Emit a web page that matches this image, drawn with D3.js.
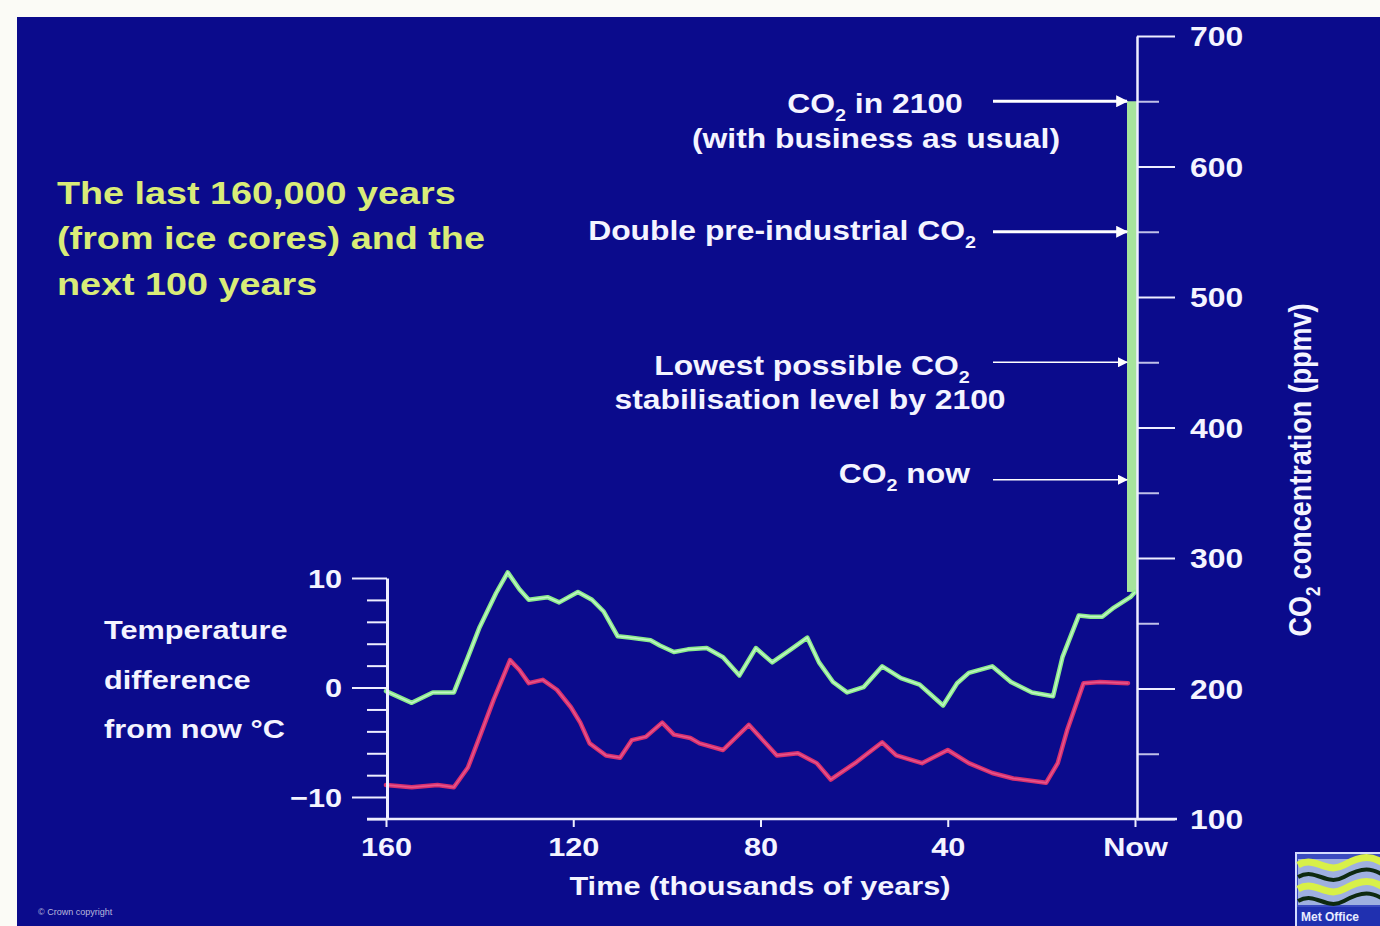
<!DOCTYPE html>
<html><head><meta charset="utf-8">
<script src="https://cdn.jsdelivr.net/npm/d3@7"></script>
<style>html,body{margin:0;padding:0;background:#fbfbf6;} svg{display:block}</style>
</head><body>
<svg id="chart" width="1380" height="926"></svg>
<script>
// ---------- data ----------
const titleLines = ["The last 160,000 years", "(from ice cores) and the", "next 100 years"];
const tempLabelLines = ["Temperature", "difference", "from now °C"];
const timeTicks = [160, 120, 80, 40, 0];
const timeTickLabels = ["160", "120", "80", "40", "Now"];
const timeTitle = "Time (thousands of years)";
const tempTicks = [-10, 0, 10];
const tempTickLabels = ["\u221210", "0", "10"];
const tempMinorTicks = [-12, -8, -6, -4, -2, 2, 4, 6, 8];
const co2Ticks = [100, 200, 300, 400, 500, 600, 700];
const co2MinorTicks = [150, 250, 350, 450, 550, 650];
const co2Title = "CO\u2082 concentration (ppmv)";

// CO2 from ice core (thousands of years before now, ppmv)
const co2Years  = [160, 154.5, 150, 145.5, 142.5, 140, 136.5, 134, 131.5, 129.5, 125.5, 123, 119, 116, 113.5, 110.5, 108, 103.5, 101.5, 98.5, 95.5, 91.5, 88, 84.5, 81, 77.5, 73.5, 70, 67.5, 64.5, 61.5, 58, 54, 50, 46, 41, 38, 35.5, 30.5, 26.5, 22, 17.5, 15.5, 12, 9.5, 7, 4.5, 1, 0];
const co2Values = [198, 189, 197, 197, 224, 247, 273, 289, 276, 268, 270, 266, 274, 268, 259, 240, 239, 237, 233, 228, 230, 231, 224, 210, 231, 220, 230, 239, 220, 205, 197, 201, 217, 208, 203, 187, 204, 212, 217, 205, 197, 194, 224, 256, 255, 255, 262, 270, 274];
// projected CO2 range for the next 100 years (ppmv)
const futureCO2 = [274, 650];

// Temperature difference from now (°C)
const tempYears  = [160, 154.5, 149, 145.5, 142.5, 140, 137, 133.5, 131.5, 129.5, 126.5, 123.5, 120.5, 118.5, 116.5, 113, 110, 107.5, 104.5, 101, 98.5, 95, 93, 88, 82.5, 76.5, 72, 68, 65, 59.5, 54, 51, 45.5, 40, 35.5, 30.5, 26, 19, 16.5, 14.5, 11, 7.5, 1.5];
const tempValues = [-8.9, -9.1, -8.9, -9.1, -7.3, -4.5, -1.1, 2.5, 1.6, 0.4, 0.7, -0.2, -1.8, -3.2, -5.1, -6.2, -6.4, -4.8, -4.5, -3.2, -4.3, -4.6, -5.1, -5.7, -3.4, -6.2, -6.0, -6.9, -8.4, -6.8, -5.0, -6.2, -6.9, -5.7, -6.9, -7.8, -8.3, -8.7, -6.9, -3.9, 0.4, 0.5, 0.4];

// CO2 reference levels (ppmv) and their labels
const annotationPpm = [650, 550, 450, 360];
const annotationText = [
  ["CO\u2082 in 2100", "(with business as usual)"],
  ["Double pre-industrial CO\u2082"],
  ["Lowest possible CO\u2082", "stabilisation level by 2100"],
  ["CO\u2082 now"]
];
const footerText = "\u00A9 Crown copyright";
const logoText = "Met Office";

// ---------- drawing ----------
const SX = 1.18;
const FONT = "'Liberation Sans', Arial, Helvetica, sans-serif";
const svg = d3.select("#chart");
svg.append("rect").attr("x", 17).attr("y", 17).attr("width", 1380 - 17).attr("height", 926 - 17).attr("fill", "#0b0b8c");

const x = d3.scaleLinear().domain([160, 0]).range([386, 1135]);
const yT = d3.scaleLinear().domain([-12, 10]).range([819, 578]);
const yC = d3.scaleLinear().domain([100, 700]).range([819, 36]);

function label(parent, px, py, str, opt) {
  const size = opt.size;
  const g = parent.append("g").attr("transform",
    `translate(${px},${py}) scale(${opt.sx || SX},1)` + (opt.rotate ? ` rotate(${opt.rotate})` : ""));
  const t = g.append("text")
    .attr("text-anchor", opt.anchor || "start")
    .attr("dy", "0.36em")
    .style("font-family", FONT).style("font-weight", "bold")
    .style("font-size", size + "px")
    .attr("fill", opt.fill || "#f4f4ff");
  const parts = str.split("\u2082");
  parts.forEach((p, i) => {
    if (i > 0) {
      t.append("tspan").style("font-size", (size * 0.62) + "px").attr("dy", size * 0.28).text("2");
      if (p !== "") t.append("tspan").style("font-size", size + "px").attr("dy", -size * 0.28).text(p);
    } else if (p !== "") {
      t.append("tspan").style("font-size", size + "px").text(p);
    }
  });
  return g;
}

// title
titleLines.forEach((s, i) => label(svg, 57, 192 + i * 45.5, s, {size: 32, fill: "#d9ec78"}));

// green future bar
svg.append("rect")
  .attr("x", 1127).attr("width", 10)
  .attr("y", yC(futureCO2[1])).attr("height", yC(futureCO2[0]) - yC(futureCO2[1]))
  .attr("fill", "#a6e49c");

// data lines
const co2Line = d3.line().x((d, i) => x(co2Years[i])).y(d => yC(d));
const tempLine = d3.line().x((d, i) => x(tempYears[i])).y(d => yT(d));
svg.append("path").datum(tempValues).attr("d", tempLine)
  .attr("fill", "none").attr("stroke", "#d8306e").attr("stroke-width", 4.5)
  .attr("stroke-linejoin", "round").attr("stroke-linecap", "round");
svg.append("path").datum(tempValues).attr("d", tempLine)
  .attr("fill", "none").attr("stroke", "#f070a0").attr("stroke-width", 1.5).attr("stroke-opacity", 0.6);
svg.append("path").datum(co2Values).attr("d", co2Line)
  .attr("fill", "none").attr("stroke", "#8ceb8c").attr("stroke-width", 4.5)
  .attr("stroke-linejoin", "round").attr("stroke-linecap", "round");
svg.append("path").datum(co2Values).attr("d", co2Line)
  .attr("fill", "none").attr("stroke", "#d8fbe0").attr("stroke-width", 1.5).attr("stroke-opacity", 0.7);

const AX = "#eeeeff";
function styleAxis(g, w) {
  g.selectAll(".domain").attr("stroke", AX).attr("stroke-width", w);
  g.selectAll(".tick line").attr("stroke", AX).attr("stroke-width", 2);
}

// bottom axis
svg.append("line").attr("x1", x(160) - 19).attr("x2", x(0) + 42).attr("y1", 819).attr("y2", 819)
  .attr("stroke", AX).attr("stroke-width", 2.5);
const gx = svg.append("g").attr("transform", "translate(0,819)")
  .call(d3.axisBottom(x).tickValues(timeTicks).tickSize(8).tickFormat((d, i) => timeTickLabels[i]));
gx.select(".domain").remove();
styleAxis(gx, 2.5);
gx.selectAll(".tick text").attr("x", 0).attr("y", 0).attr("dy", "0.36em")
  .attr("transform", `translate(0,28) scale(${SX},1)`)
  .style("font-family", FONT).style("font-weight", "bold").style("font-size", "26px").attr("fill", "#f4f4ff");
label(svg, 760, 886, timeTitle, {size: 26, anchor: "middle"});

// left temperature axis
const gl = svg.append("g").attr("transform", "translate(387,0)")
  .call(d3.axisLeft(yT).tickValues(tempTicks).tickSize(35).tickSizeOuter(0).tickFormat((d, i) => tempTickLabels[i]));
styleAxis(gl, 3);
gl.selectAll(".tick text").attr("x", 0).attr("dy", "0.36em")
  .attr("transform", `translate(-45,0) scale(${SX},1)`)
  .style("font-family", FONT).style("font-weight", "bold").style("font-size", "26px").attr("fill", "#f4f4ff");
const glm = svg.append("g").attr("transform", "translate(387,0)")
  .call(d3.axisLeft(yT).tickValues(tempMinorTicks).tickSize(20).tickFormat(""));
glm.select(".domain").remove();
glm.selectAll(".tick text").remove();
styleAxis(glm, 2);
tempLabelLines.forEach((s, i) => label(svg, 104, 630 + i * 49.5, s, {size: 26}));

// right CO2 axis
const gr = svg.append("g").attr("transform", "translate(1137,0)")
  .call(d3.axisRight(yC).tickValues(co2Ticks).tickSize(38).tickSizeOuter(0));
styleAxis(gr, 2.5);
gr.selectAll(".tick text").attr("x", 0).attr("dy", "0.36em")
  .attr("transform", `translate(53,0) scale(${SX},1)`)
  .style("font-family", FONT).style("font-weight", "bold").style("font-size", "27px").attr("fill", "#f4f4ff");
const grm = svg.append("g").attr("transform", "translate(1137,0)")
  .call(d3.axisRight(yC).tickValues(co2MinorTicks).tickSize(22).tickFormat(""));
grm.select(".domain").remove();
grm.selectAll(".tick text").remove();
styleAxis(grm, 2);
grm.selectAll(".tick line").attr("stroke-opacity", 0.8);
label(svg, 1300, 470, co2Title, {size: 27, anchor: "middle", rotate: -90});

// arrows
const defs = svg.append("defs");
defs.append("marker").attr("id", "ahBig").attr("viewBox", "0 0 10 10").attr("refX", 9).attr("refY", 5)
  .attr("markerUnits", "userSpaceOnUse").attr("markerWidth", 14).attr("markerHeight", 12).attr("orient", "auto")
  .append("path").attr("d", "M0,0 L10,5 L0,10 Z").attr("fill", "#ffffff");
defs.append("marker").attr("id", "ahSmall").attr("viewBox", "0 0 10 10").attr("refX", 9).attr("refY", 5)
  .attr("markerUnits", "userSpaceOnUse").attr("markerWidth", 12).attr("markerHeight", 10).attr("orient", "auto")
  .append("path").attr("d", "M0,0 L10,5 L0,10 Z").attr("fill", "#ffffff");

annotationPpm.forEach((ppm, i) => {
  const ay = yC(ppm);
  const big = i < 2;
  svg.append("line").attr("x1", 993).attr("x2", 1127).attr("y1", ay).attr("y2", ay)
    .attr("stroke", "#ffffff").attr("stroke-width", big ? 3 : 1.6)
    .attr("marker-end", big ? "url(#ahBig)" : "url(#ahSmall)");
});
// annotation labels
label(svg, 875, yC(annotationPpm[0]) + 2, annotationText[0][0], {size: 27, anchor: "middle"});
label(svg, 876, yC(annotationPpm[0]) + 37, annotationText[0][1], {size: 27, anchor: "middle"});
label(svg, 976, yC(annotationPpm[1]) - 1, annotationText[1][0], {size: 27, anchor: "end"});
label(svg, 812, yC(annotationPpm[2]) + 3, annotationText[2][0], {size: 27, anchor: "middle"});
label(svg, 810, yC(annotationPpm[2]) + 37, annotationText[2][1], {size: 27, anchor: "middle"});
label(svg, 970, yC(annotationPpm[3]) - 6, annotationText[3][0], {size: 27, anchor: "end"});

// footer text
svg.append("text").attr("x", 38).attr("y", 915).text(footerText)
  .style("font-family", FONT).style("font-size", "9px").attr("fill", "#b8b8dc");

// logo
const logo = svg.append("g").attr("transform", "translate(1296,853)");
logo.append("rect").attr("width", 90).attr("height", 74).attr("fill", "#3a4ac0").attr("stroke", "#d4dcff").attr("stroke-width", 2);
logo.append("rect").attr("x", 2).attr("y", 6).attr("width", 88).attr("height", 46).attr("fill", "#9fb0e0");
[12, 24, 36, 48].forEach((oy, i) => {
  logo.append("path")
    .attr("d", `M2,${oy} C20,${oy - 10} 30,${oy + 10} 48,${oy} S76,${oy - 10} 90,${oy}`)
    .attr("fill", "none").attr("stroke", i % 2 ? "#0e2a10" : "#d8f048").attr("stroke-width", i % 2 ? 4 : 7);
});
logo.append("rect").attr("x", 1).attr("y", 54).attr("width", 89).attr("height", 19).attr("fill", "#2030b0");
logo.append("text").attr("x", 5).attr("y", 68).text(logoText)
  .style("font-family", FONT).style("font-weight", "bold").style("font-size", "12px").attr("fill", "#e8ecff");
</script>
</body></html>
